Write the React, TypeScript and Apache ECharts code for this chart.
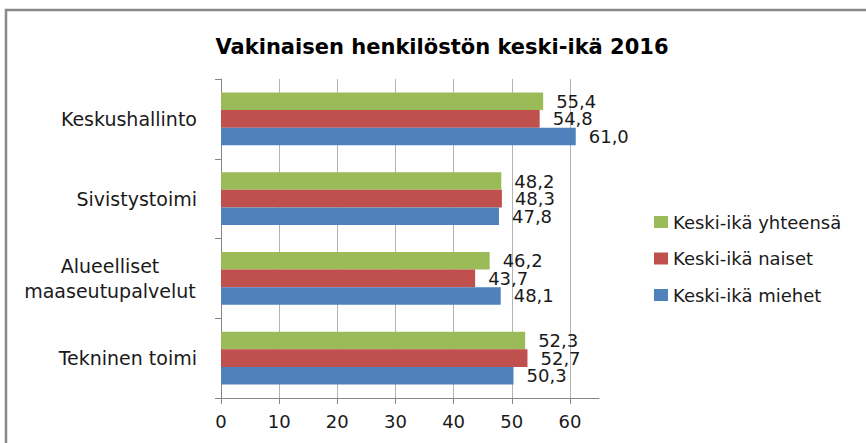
import React, { useEffect, useRef } from "react";
import * as echarts from "echarts";

const categories = ["Keskushallinto", "Sivistystoimi", "Alueelliset\nmaaseutupalvelut", "Tekninen toimi"];
const seriesNames = ["Keski-ikä yhteensä", "Keski-ikä naiset", "Keski-ikä miehet"];
const yhteensa = [55.4, 48.2, 46.2, 52.3];
const naiset = [54.8, 48.3, 43.7, 52.7];
const miehet = [61.0, 47.8, 48.1, 50.3];
const xTicks = [0, 10, 20, 30, 40, 50, 60];
const colors = ["#9BBB59", "#C0504D", "#4F81BD"];

const FONT = "DejaVu Sans";

export default function App() {
  const ref = useRef<HTMLDivElement>(null);
  useEffect(() => {
    if (!ref.current) return;
    const chart = echarts.init(ref.current, undefined, { renderer: "svg" });
    const fmt = (p: any) => Number(p.value).toFixed(1).replace(".", ",");
    const mk = (name: string, data: number[], color: string) => ({
      name,
      type: "bar",
      data,
      barGap: "0%",
      barCategoryGap: "34%",
      itemStyle: { color },
      label: {
        show: true,
        position: "right",
        distance: 13,
        formatter: fmt,
        fontFamily: FONT,
        fontSize: 18,
        lineHeight: 16,
        color: "#1a1a1a",
      },
    });
    chart.setOption({
      animation: false,
      backgroundColor: "#fff",
      title: {
        text: "Vakinaisen henkilöstön keski-ikä 2016",
        left: 437,
        textAlign: "center",
        top: 31,
        textStyle: { fontFamily: FONT, fontSize: 21, fontWeight: "bold", color: "#000" },
      },
      graphic: [
        {
          type: "rect",
          shape: { x: 6, y: 10, width: 880, height: 460 },
          style: { fill: "none", stroke: "#888", lineWidth: 2.5 },
          silent: true,
        },
      ],
      legend: {
        orient: "vertical",
        left: 649,
        top: 208,
        itemWidth: 14,
        itemHeight: 12,
        itemGap: 18.5,
        data: seriesNames,
        textStyle: { fontFamily: FONT, fontSize: 18, color: "#1a1a1a" },
        icon: "rect",
      },
      grid: { left: 221, top: 79, width: 378, height: 319, containLabel: false },
      xAxis: {
        type: "value",
        min: 0,
        max: 65,
        interval: 10,
        axisLine: { show: true, lineStyle: { color: "#868686", width: 1 } },
        axisTick: { show: true, length: 6, lineStyle: { color: "#868686" } },
        axisLabel: {
          margin: 14,
          fontFamily: FONT,
          fontSize: 18,
          color: "#1a1a1a",
          showMaxLabel: false,
          formatter: (v: number) => (xTicks.includes(v) ? String(v) : ""),
        },
        splitLine: { show: true, showMaxLine: false, lineStyle: { color: "#b3b3b3", width: 1 } },
      },
      yAxis: {
        type: "category",
        inverse: true,
        data: categories,
        axisLine: { show: true, lineStyle: { color: "#868686", width: 1 } },
        axisTick: { show: true, length: 6, lineStyle: { color: "#868686" } },
        axisLabel: {
          margin: 24,
          fontFamily: FONT,
          fontSize: 19,
          color: "#1a1a1a",
          lineHeight: 25,
          formatter: (v: string) => {
            if (v.includes("\n")) {
              const [a, b] = v.split("\n");
              return `{c|${a}}\n{c|${b}}`;
            }
            return v;
          },
          rich: {
            c: { width: 174, align: "center", fontFamily: FONT, fontSize: 19, color: "#1a1a1a", lineHeight: 25 },
          },
        },
      },
      series: [mk(seriesNames[0], yhteensa, colors[0]), mk(seriesNames[1], naiset, colors[1]), mk(seriesNames[2], miehet, colors[2])],
    });
    return () => chart.dispose();
  }, []);
  return <div ref={ref} style={{ width: 866, height: 443, position: "absolute", left: 0, top: 0 }} />;
}
